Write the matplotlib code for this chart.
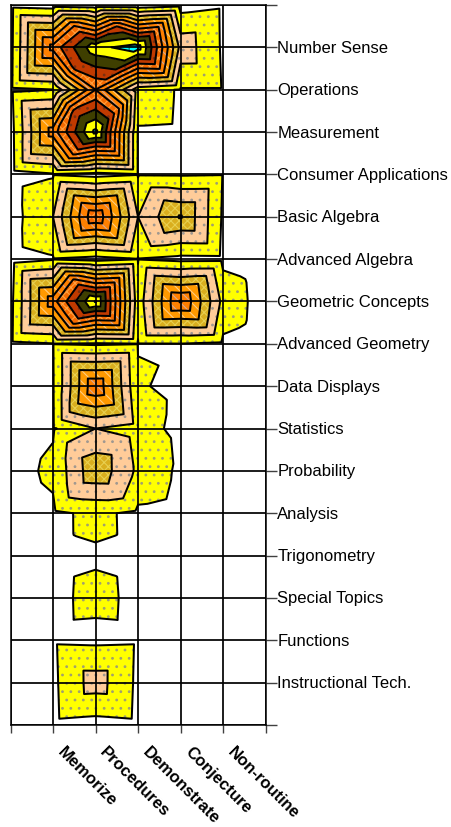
import matplotlib
matplotlib.use("Agg")
import matplotlib.pyplot as plt
import matplotlib.tri as mtri
import matplotlib.transforms as mtrans
import numpy as np

plt.rcParams['font.family'] = ['Liberation Sans', 'DejaVu Sans']

process_labels = ['Memorize', 'Procedures', 'Demonstrate', 'Conjecture', 'Non-routine']
topic_labels = ['Number Sense', 'Operations', 'Measurement', 'Consumer Applications',
                'Basic Algebra', 'Advanced Algebra', 'Geometric Concepts', 'Advanced Geometry',
                'Data Displays', 'Statistics', 'Probability', 'Analysis', 'Trigonometry',
                'Special Topics', 'Functions', 'Instructional Tech.']

pad_top   = [.65, .50, .35, .30, .61, .85, 0]
number    = [.70, 6.4, 9.7, 10.5, 2.67, .87, 0]
operation = [.75, .97, 6.0, 1.4, .93, .93, 0]
measure   = [.60, 5.5, 10.3, .93, .90, 0, 0]
consumer  = [.55, .90, .62, .92, .90, .95, 0]
basic_alg = [.59, 2.0, 6.9, 2.0, 4.1, .87, 0]
adv_alg   = [.55, .90, .60, .95, .72, .75, 0]
geom      = [.70, 5.6, 10.1, 1.4, 6.1, 1.7, .5]
adv_geo   = [.75, .95, .85, .95, .97, .80, 0]
displays  = [0, .93, 5.9, 1.12, .70, 0, 0]
stats     = [0, .90, 2.0, 1.5, .68, 0, 0]
prob      = [.63, 1.2, 3.75, 1.8, .80, 0, 0]
analysis  = [0, .82, 1.2, .80, .50, 0, 0]
trig      = [0, .72, .91, .72, 0, 0, 0]
special   = [0, .84, 1.18, .85, 0, 0, 0]
functions = [0, .85, .80, .85, 0, 0, 0]
instr     = [0, .80, 2.47, .81, 0, 0, 0]
pad_bot   = [0, .75, .61, .75, 0, 0, 0]

Z = np.array([pad_top, number, operation, measure, consumer, basic_alg, adv_alg, geom,
              adv_geo, displays, stats, prob, analysis, trig, special, functions, instr, pad_bot])

band_low  = [1, 2, 3, 4, 5, 6, 7, 8, 9, 10]
band_high = [2, 3, 4, 5, 6, 7, 8, 9, 10, 13]
band_face = ['#FFFF00', '#FFCC99', '#D9AE1E', '#FF9900', '#FF8000', '#F56A00',
             '#C03A00', '#3F3F00', '#FFFF00', '#00FFFF']
band_hatch = ['..', '..', 'xxxx', '\\\\\\', '\\\\\\', 'xxxx', '..', None, None, '++']
band_hcol = ['#A0A070', '#A09890', '#E8D050', '#FFCC80', '#D8A890', '#FFA040',
             '#7A3010', '#3F3F00', '#FFFF00', '#007070']

W, H = 451, 827
fig = plt.figure(figsize=(W / 100, H / 100), dpi=100)
L, R, T, B = 10.5, 265.5, 5, 725
ax = fig.add_axes([L / W, 1 - B / H, (R - L) / W, (B - T) / H])

nr, nc = Z.shape
x = np.arange(nc)
y = np.arange(nr)
gx, gy = np.meshgrid(x, y)
cx, cy = np.meshgrid(x[:-1] + .5, y[:-1] + .5)
st = np.stack([Z[:-1, :-1], Z[:-1, 1:], Z[1:, :-1], Z[1:, 1:]])
top = st.max(axis=0)
cz = (top + (st.sum(axis=0) - top) / 3) / 2
px = np.concatenate([gx.ravel(), cx.ravel()])
py = np.concatenate([gy.ravel(), cy.ravel()])
pz = np.concatenate([Z.ravel(), cz.ravel()])
tris = []
for r in range(nr - 1):
    for c in range(nc - 1):
        tl = r * nc + c
        tr = tl + 1
        bl = tl + nc
        br = bl + 1
        m = nr * nc + r * (nc - 1) + c
        tris += [[tl, tr, m], [tr, br, m], [br, bl, m], [bl, tl, m]]
tg = mtri.Triangulation(px, py, tris)

for lo, hi, fc, ht, hc in zip(band_low, band_high, band_face, band_hatch, band_hcol):
    with plt.rc_context({'hatch.color': hc, 'hatch.linewidth': 0.8}):
        cs = ax.tricontourf(tg, pz, levels=[lo, hi], colors=[fc],
                            hatches=[ht], zorder=1)
        cs.set_edgecolor(hc)
        cs.set_linewidth(0)
ax.tricontour(tg, pz, levels=band_low, colors='black', linewidths=1.45, zorder=2,
              linestyles='solid')

ax.set_xlim(0, 6)
ax.set_ylim(17, 0)
ax.set_axisbelow(False)
ax.grid(True, color='black', linewidth=1.25, zorder=3)
for s in ax.spines.values():
    s.set_linewidth(1.1)
    s.set_color('black')
    s.set_zorder(3)

ax.set_yticks(y)
ax.set_yticklabels([''] + topic_labels + [''], fontsize=12)
ax.yaxis.tick_right()
ax.tick_params(axis='y', length=8, width=1.0, pad=0.5, color='#404040', labelcolor='black')
yoff = mtrans.ScaledTranslation(0, 0.5 / 100, fig.dpi_scale_trans)
for lab in ax.get_yticklabels():
    lab.set_transform(lab.get_transform() + yoff)

ax.set_xticks(x)
ax.set_xticklabels([''] + process_labels + [''], fontsize=12, fontweight='bold',
                   rotation=-45, rotation_mode='anchor', ha='left', va='center')
ax.tick_params(axis='x', length=6, width=1.0, pad=12, color='#404040')
off = mtrans.ScaledTranslation(7 / 100, 0, fig.dpi_scale_trans)
for lab in ax.get_xticklabels():
    lab.set_transform(lab.get_transform() + off)

fig.savefig('out.png', dpi=100)
